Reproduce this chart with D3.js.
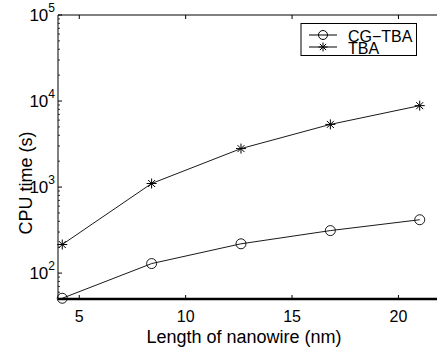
<!DOCTYPE html>
<html>
<head>
<meta charset="utf-8">
<script src="https://cdn.jsdelivr.net/npm/d3@7"></script>
<style>
  body { margin: 0; background: #fff; }
  svg { display: block; font-family: "Liberation Sans", Arial, sans-serif; }
</style>
</head>
<body>
<div id="chart"></div>
<script>
// data
const lengths = [4.2, 8.4, 12.6, 16.8, 21.0];
const cgTba = [51, 129, 219, 312, 417];
const tba = [215, 1100, 2800, 5350, 8840];
const xTicks = [5, 10, 15, 20];
const yTicks = [1e2, 1e3, 1e4, 1e5];

let width = 437,
    height = 349,
    margin = { top: 15, right: -4, bottom: 50, left: 58 };

const svg = d3
    .select("#chart")
    .append("svg")
    .attr("width", width)
    .attr("height", height);

let x = d3
    .scaleLinear()
    .domain([4, 22])
    .range([margin.left, width - margin.right]);

let y = d3
    .scaleLog()
    .domain([50, 1e5])
    .range([height - margin.bottom, margin.top]);

// frame lines
svg.append("line")
    .attr("x1", margin.left).attr("x2", width)
    .attr("y1", margin.top).attr("y2", margin.top)
    .attr("stroke", "#000").attr("stroke-width", 1);
svg.append("line")
    .attr("x1", margin.left).attr("x2", margin.left)
    .attr("y1", margin.top).attr("y2", height - margin.bottom)
    .attr("stroke", "#000").attr("stroke-width", 1);

// x ticks, inward on bottom and top
const xt = svg.append("g");
xt.selectAll("line.b")
    .data(xTicks)
    .join("line")
    .attr("class", "b")
    .attr("x1", (d) => x(d)).attr("x2", (d) => x(d))
    .attr("y1", height - margin.bottom).attr("y2", height - margin.bottom - 4)
    .attr("stroke", "#000");
xt.selectAll("line.t")
    .data(xTicks)
    .join("line")
    .attr("class", "t")
    .attr("x1", (d) => x(d)).attr("x2", (d) => x(d))
    .attr("y1", margin.top).attr("y2", margin.top + 4)
    .attr("stroke", "#000");
xt.selectAll("text")
    .data(xTicks)
    .join("text")
    .attr("x", (d) => x(d))
    .attr("y", 322)
    .attr("text-anchor", "middle")
    .style("font-size", "16px")
    .text((d) => d);

// y ticks: majors and log minors
const minors = [];
for (let p = 1; p < 5; p++)
    for (let k = 2; k <= 9; k++) {
        const v = k * Math.pow(10, p);
        if (v >= 50) minors.push(v);
    }
const yt = svg.append("g");
yt.selectAll("line.minor")
    .data(minors)
    .join("line")
    .attr("class", "minor")
    .attr("x1", margin.left).attr("x2", margin.left + 2)
    .attr("y1", (d) => y(d)).attr("y2", (d) => y(d))
    .attr("stroke", "#000").attr("stroke-width", 0.8);
yt.selectAll("line.major")
    .data(yTicks)
    .join("line")
    .attr("class", "major")
    .attr("x1", margin.left).attr("x2", margin.left + 4)
    .attr("y1", (d) => y(d)).attr("y2", (d) => y(d))
    .attr("stroke", "#000");
const yl = yt.selectAll("text")
    .data(yTicks)
    .join("text")
    .attr("x", 55)
    .attr("y", (d) => y(d) + 6)
    .attr("text-anchor", "end")
    .style("font-size", "17px");
yl.append("tspan").text("10");
yl.append("tspan")
    .attr("dy", -9)
    .style("font-size", "12px")
    .text((d) => Math.round(Math.log10(d)));

// bottom axis, heavy line
svg.append("line")
    .attr("x1", margin.left).attr("x2", width)
    .attr("y1", height - margin.bottom).attr("y2", height - margin.bottom)
    .attr("stroke", "#000").attr("stroke-width", 2.5);

// series
const line = d3.line().x((d) => x(d[0])).y((d) => y(d[1]));
const cgData = lengths.map((l, i) => [l, cgTba[i]]);
const tbaData = lengths.map((l, i) => [l, tba[i]]);

svg.append("path")
    .datum(cgData)
    .attr("d", line)
    .attr("fill", "none").attr("stroke", "#000").attr("stroke-width", 0.9);
svg.append("path")
    .datum(tbaData)
    .attr("d", line)
    .attr("fill", "none").attr("stroke", "#000").attr("stroke-width", 0.9);

svg.append("g")
    .selectAll("circle")
    .data(cgData)
    .join("circle")
    .attr("cx", (d) => x(d[0]))
    .attr("cy", (d) => y(d[1]))
    .attr("r", 5)
    .attr("fill", "none")
    .attr("stroke", "#000")
    .attr("stroke-width", 0.9);

function star(g, cx, cy, s) {
    const d = `M${cx - s},${cy}L${cx + s},${cy}M${cx},${cy - s}L${cx},${cy + s}` +
        `M${cx - s * 0.7},${cy - s * 0.7}L${cx + s * 0.7},${cy + s * 0.7}` +
        `M${cx - s * 0.7},${cy + s * 0.7}L${cx + s * 0.7},${cy - s * 0.7}`;
    g.append("path").attr("d", d).attr("stroke", "#000").attr("stroke-width", 1).attr("fill", "none");
}
const stars = svg.append("g");
tbaData.forEach((d) => star(stars, x(d[0]), y(d[1]), 5));

// legend
const lg = svg.append("g");
lg.append("rect")
    .attr("x", 301).attr("y", 23.5)
    .attr("width", 115.5).attr("height", 32)
    .attr("fill", "#fff").attr("stroke", "#000").attr("stroke-width", 1);
lg.append("line").attr("x1", 309).attr("x2", 337).attr("y1", 35).attr("y2", 35).attr("stroke", "#000");
lg.append("circle").attr("cx", 323).attr("cy", 35).attr("r", 4.5).attr("fill", "none").attr("stroke", "#000");
lg.append("line").attr("x1", 309).attr("x2", 337).attr("y1", 47).attr("y2", 47).attr("stroke", "#000");
star(lg, 323, 47, 4.5);
lg.append("text").attr("x", 348).attr("y", 41.5).style("font-size", "16px").text("CG\u2212TBA");
lg.append("text").attr("x", 348).attr("y", 54).style("font-size", "16px").text("TBA");

// axis titles
svg.append("text")
    .attr("x", 244)
    .attr("y", 343)
    .attr("text-anchor", "middle")
    .style("font-size", "18px")
    .text("Length of nanowire (nm)");
svg.append("text")
    .attr("transform", "translate(32,183) rotate(-90)")
    .attr("text-anchor", "middle")
    .style("font-size", "18px")
    .text("CPU time (s)");
</script>
</body>
</html>
